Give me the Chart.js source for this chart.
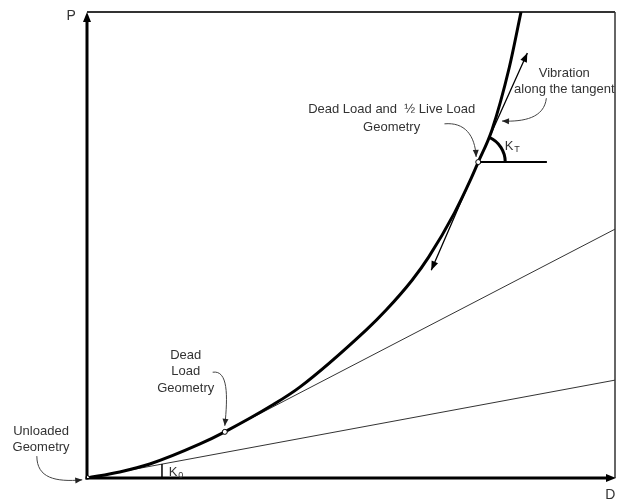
<!DOCTYPE html>
<html lang="en">
<head>
<meta charset="utf-8" />
<title>Load - Displacement</title>
<style>
  html, body { margin: 0; padding: 0; background: #fff; overflow: hidden; }
  canvas { display: block; }
</style>
</head>
<body>
<canvas id="myChart" width="620" height="501"></canvas>
<script src="https://cdn.jsdelivr.net/npm/chart.js/dist/chart.umd.min.js"></script>
<script>
// load-displacement curve (0..100 = full axis length)
const dispD = [0, 6.2, 11.9, 21.4, 26.1, 35.2, 40.3, 52.9, 56.7, 61.6, 64.7, 69.6, 72.6, 74.1, 76.7, 80.0, 82.2];
const loadP = [0, 1.3, 3.0, 7.3, 9.9, 15.7, 19.5, 31.8, 36.1, 42.5, 47.4, 56.9, 63.9, 67.8, 74.7, 88.2, 100];

// geometry states marked on the curve
const stateNames = ["Unloaded Geometry", "Dead Load Geometry", "Dead Load and  \u00bd Live Load Geometry"];
const stateD = [0, 26.1, 74.1];
const stateP = [0, 9.9, 67.8];

// straight lines
const k0D = [0, 100];            // initial stiffness K0
const k0P = [0, 21.0];
const deadTanD = [26.1, 100];    // tangent at dead load
const deadTanP = [9.9, 53.4];
const liveTanD = [65.2, 74.1, 83.4]; // tangent at dead + 1/2 live (vibration)
const liveTanP = [44.6, 67.8, 91.2];
const refD = [74.1, 87.1];       // horizontal reference for KT
const refP = [67.8, 67.8];

const toXY = (xs, ys) => xs.map((x, i) => ({ x: x, y: ys[i] }));

const FONT = "13px 'Liberation Sans', Arial, sans-serif";
const INK = "#333";

function arrowHead(ctx, x0, y0, x1, y1, len, half) {
  const a = Math.atan2(y1 - y0, x1 - x0);
  const c = Math.cos(a), s = Math.sin(a);
  ctx.beginPath();
  ctx.moveTo(x1, y1);
  ctx.lineTo(x1 - len * c + half * s, y1 - len * s - half * c);
  ctx.lineTo(x1 - len * c - half * s, y1 - len * s + half * c);
  ctx.closePath();
  ctx.fill();
}

// frame + axes with arrows
const axesPlugin = {
  id: "axes",
  beforeDatasetsDraw(chart) {
    const ctx = chart.ctx;
    const sx = v => chart.scales.x.getPixelForValue(v);
    const sy = v => chart.scales.y.getPixelForValue(v);
    ctx.save();
    ctx.strokeStyle = INK;
    ctx.fillStyle = "#000";
    ctx.lineWidth = 2;
    ctx.beginPath();
    ctx.moveTo(sx(0), sy(100));
    ctx.lineTo(sx(100), sy(100));
    ctx.stroke();
    ctx.lineWidth = 1.5;
    ctx.beginPath();
    ctx.moveTo(sx(100), sy(100));
    ctx.lineTo(sx(100), sy(0));
    ctx.stroke();

    ctx.strokeStyle = "#000";
    ctx.lineWidth = 3;
    ctx.beginPath();
    ctx.moveTo(sx(0), sy(0) + 1.5);
    ctx.lineTo(sx(0), sy(100) + 8);
    ctx.stroke();
    arrowHead(ctx, sx(0), sy(50), sx(0), sy(100), 10, 4);
    ctx.beginPath();
    ctx.moveTo(sx(0) - 1.5, sy(0));
    ctx.lineTo(sx(100) - 8, sy(0));
    ctx.stroke();
    arrowHead(ctx, sx(50), sy(0), sx(100) + 1, sy(0), 10, 4);
    ctx.restore();
  },
  afterDatasetsDraw(chart) {
    const ctx = chart.ctx;
    const sx = v => chart.scales.x.getPixelForValue(v);
    const sy = v => chart.scales.y.getPixelForValue(v);
    ctx.save();

    // tangent arrows for vibration
    ctx.fillStyle = "#000";
    arrowHead(ctx, sx(liveTanD[1]), sy(liveTanP[1]), sx(liveTanD[2]), sy(liveTanP[2]), 9, 3.5);
    arrowHead(ctx, sx(liveTanD[1]), sy(liveTanP[1]), sx(liveTanD[0]), sy(liveTanP[0]), 9, 3.5);

    // KT arc
    const cx = sx(liveTanD[1]), cy = sy(liveTanP[1]);
    const th = Math.atan2(sy(liveTanP[2]) - cy, sx(liveTanD[2]) - cx);
    ctx.strokeStyle = "#000";
    ctx.lineWidth = 3;
    ctx.beginPath();
    ctx.arc(cx, cy, 27, th, 0);
    ctx.stroke();

    // K0 tick
    ctx.lineWidth = 1.5;
    ctx.beginPath();
    ctx.moveTo(sx(14.2), sy(0));
    ctx.lineTo(sx(14.2), sy(14.2 * k0P[1] / 100));
    ctx.stroke();

    // curved pointer arrows (data units: start, cp1, cp2, end)
    const pointers = [
      [[-9.5, 4.7], [-9.5, 0], [-6.0, -0.9], [-0.9, -0.4]],
      [[23.8, 22.7], [26.7, 23.2], [26.7, 17.8], [26.1, 11.2]],
      [[67.7, 76.0], [71.5, 76.4], [73.5, 73.6], [73.7, 68.9]],
      [[87.0, 81.5], [86.6, 77.3], [82.8, 76.4], [78.6, 76.6]]
    ];
    ctx.strokeStyle = "#444";
    ctx.fillStyle = "#222";
    ctx.lineWidth = 1;
    pointers.forEach(p => {
      const q = p.map(v => [sx(v[0]), sy(v[1])]);
      ctx.beginPath();
      ctx.moveTo(q[0][0], q[0][1]);
      ctx.bezierCurveTo(q[1][0], q[1][1], q[2][0], q[2][1], q[3][0], q[3][1]);
      ctx.stroke();
      arrowHead(ctx, q[2][0], q[2][1], q[3][0], q[3][1], 7, 3);
    });

    // labels
    ctx.fillStyle = INK;
    ctx.font = FONT;
    ctx.textAlign = "center";
    ctx.textBaseline = "middle";
    const txt = (s, d, p) => ctx.fillText(s, sx(d), sy(p));
    txt("Unloaded", -8.7, 9.9);
    txt("Geometry", -8.7, 6.6);
    txt("Dead", 18.7, 26.4);
    txt("Load", 18.7, 22.8);
    txt("Geometry", 18.7, 19.3);
    txt("Dead Load and  \u00bd Live Load", 57.7, 79.2);
    txt("Geometry", 57.7, 75.3);
    txt("Vibration", 90.4, 86.9);
    txt("along the tangent", 90.4, 83.3);

    ctx.font = "14px 'Liberation Sans', Arial, sans-serif";
    txt("P", -3.0, 99.1);
    txt("D", 99.1, -3.6);

    ctx.textAlign = "left";
    ctx.font = FONT;
    ctx.fillText("K", sx(79.1), sy(71.2));
    ctx.fillText("K", sx(15.5), sy(1.3));
    ctx.font = "9px 'Liberation Sans', Arial, sans-serif";
    ctx.fillText("T", sx(80.9), sy(70.4));
    ctx.fillText("0", sx(17.3), sy(0.6));
    ctx.restore();
  }
};

const data = {
  datasets: [
    {
      label: "states",
      data: toXY(stateD, stateP),
      showLine: false,
      pointRadius: 2.5,
      pointBackgroundColor: "#fff",
      pointBorderColor: "#000",
      pointBorderWidth: 1,
      order: 0
    },
    {
      label: "curve",
      data: toXY(dispD, loadP),
      showLine: true,
      borderColor: "#000",
      borderWidth: 3,
      pointRadius: 0,
      cubicInterpolationMode: "monotone",
      order: 1
    },
    {
      label: "K0",
      data: toXY(k0D, k0P),
      showLine: true,
      borderColor: "#333",
      borderWidth: 1,
      pointRadius: 0,
      order: 3
    },
    {
      label: "dead tangent",
      data: toXY(deadTanD, deadTanP),
      showLine: true,
      borderColor: "#333",
      borderWidth: 1,
      pointRadius: 0,
      order: 3
    },
    {
      label: "vibration tangent",
      data: toXY(liveTanD, liveTanP),
      showLine: true,
      borderColor: "#000",
      borderWidth: 1.3,
      pointRadius: 0,
      order: 2
    },
    {
      label: "horizontal",
      data: toXY(refD, refP),
      showLine: true,
      borderColor: "#000",
      borderWidth: 2,
      pointRadius: 0,
      order: 2
    }
  ]
};

const config = {
  type: "scatter",
  data,
  options: {
    responsive: false,
    animation: false,
    events: [],
    layout: { padding: { left: 87, top: 12, right: 4, bottom: 23 } },
    scales: {
      x: { type: "linear", min: 0, max: 100, display: false },
      y: { type: "linear", min: 0, max: 100, display: false }
    },
    plugins: {
      legend: { display: false },
      tooltip: { enabled: false }
    }
  },
  plugins: [axesPlugin]
};

const myChart = new Chart(document.getElementById("myChart"), config);
</script>
</body>
</html>
